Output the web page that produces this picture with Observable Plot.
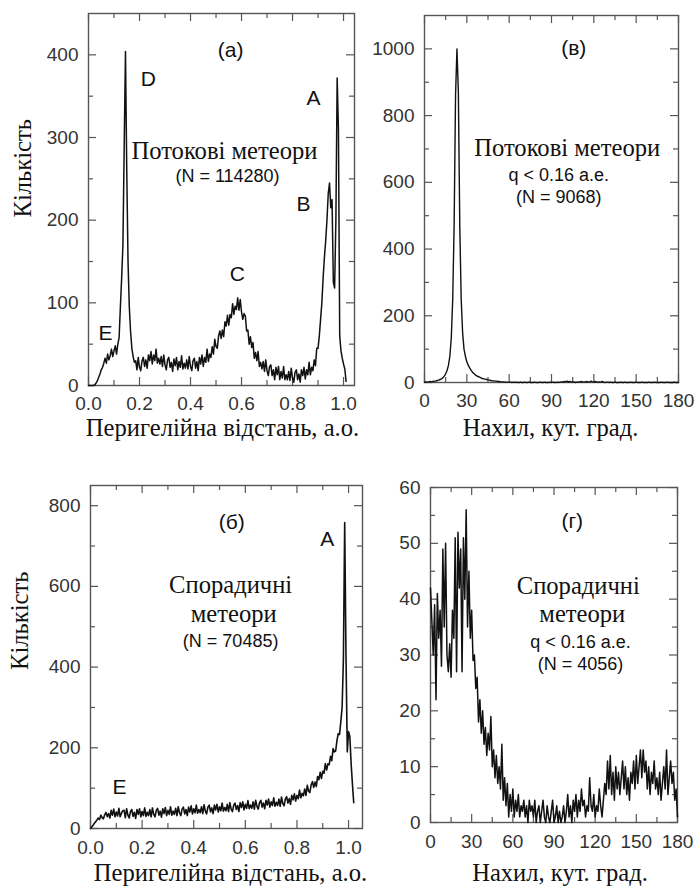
<!DOCTYPE html>
<html>
<head>
<meta charset="utf-8">
<script src="https://cdn.jsdelivr.net/npm/d3@7"></script>
<script src="https://cdn.jsdelivr.net/npm/@observablehq/plot@0.6"></script>
<style>
  body { margin: 0; background: #fff; }
  #fig { position: relative; width: 696px; height: 890px; overflow: hidden; background: #fff; }
  #fig > div { position: absolute; }
</style>
</head>
<body>
<div id="fig"></div>
<script>
// Perihelion distance histograms: counts per 0.005 AU bin, first bin at q = 0
const qBinWidth = 0.005;

// Shower meteors (N = 114280)
const perihelionShower = [
  0, 0, 0, 0, 0, 1, 3, 6, 10, 14,
  19, 22, 27, 33, 27, 38, 31, 36, 44, 35,
  42, 48, 38, 50, 58, 95, 130, 170, 290, 404,
  260, 150, 95, 65, 45, 35, 28, 30, 19, 34,
  22, 18, 30, 34, 23, 31, 21, 37, 30, 41,
  26, 37, 30, 44, 27, 33, 26, 35, 23, 37,
  25, 19, 31, 34, 22, 28, 17, 32, 24, 34,
  19, 29, 22, 36, 20, 27, 21, 31, 20, 35,
  23, 18, 30, 33, 21, 29, 18, 34, 26, 37,
  23, 34, 28, 44, 29, 38, 34, 47, 38, 56,
  47, 45, 60, 66, 57, 67, 59, 77, 72, 85,
  73, 86, 82, 99, 86, 96, 92, 106, 91, 104,
  89, 80, 87, 84, 66, 67, 50, 59, 46, 52,
  33, 40, 30, 41, 23, 28, 20, 29, 17, 31,
  18, 12, 23, 25, 12, 19, 7, 22, 13, 23,
  7, 17, 9, 23, 7, 13, 7, 17, 6, 21,
  9, 4, 16, 19, 7, 14, 4, 19, 12, 22,
  8, 19, 13, 28, 13, 22, 18, 31, 24, 45,
  45, 60, 80, 100, 130, 155, 175, 200, 232, 245,
  215, 225, 125, 118, 200, 372, 310, 60, 42, 33,
  26, 20, 5
];

// Sporadic meteors (N = 70485)
const perihelionSporadic = [
  0, 4, 8, 13, 17, 21, 26, 22, 33, 27,
  24, 34, 40, 29, 37, 26, 45, 33, 48, 29,
  41, 31, 50, 29, 38, 44, 45, 27, 49, 33,
  26, 42, 47, 30, 40, 25, 47, 35, 49, 29,
  42, 32, 51, 30, 40, 32, 47, 29, 51, 35,
  29, 45, 50, 33, 43, 28, 49, 37, 52, 32,
  45, 35, 54, 33, 43, 35, 50, 32, 54, 39,
  32, 48, 53, 36, 47, 32, 53, 41, 56, 36,
  49, 39, 58, 38, 47, 39, 54, 37, 59, 43,
  36, 53, 58, 41, 51, 37, 58, 46, 60, 41,
  54, 44, 63, 43, 52, 44, 60, 42, 64, 48,
  42, 58, 63, 47, 57, 42, 64, 52, 66, 46,
  60, 50, 69, 49, 58, 50, 66, 48, 70, 55,
  48, 64, 70, 53, 63, 49, 70, 58, 73, 53,
  66, 57, 76, 55, 65, 57, 73, 55, 78, 62,
  56, 73, 79, 63, 74, 60, 82, 71, 86, 68,
  82, 74, 95, 76, 87, 81, 98, 82, 107, 93,
  89, 108, 116, 102, 115, 104, 129, 121, 139, 124,
  142, 137, 161, 145, 160, 158, 179, 168, 198, 190,
  192, 218, 235, 233, 265, 300, 420, 758, 430, 190,
  240, 228, 160, 110, 64
];

// Inclination histograms for q < 0.16 AU: counts per 1-degree bin, 0..180
const inclinationShower = [
  1, 2, 1, 2, 3, 2, 3, 4, 4, 6,
  7, 9, 11, 14, 19, 26, 36, 52, 80, 135,
  250, 470, 860, 1000, 870, 470, 250, 150, 100, 78,
  62, 52, 44, 37, 31, 27, 23, 20, 18, 16,
  14, 12, 11, 10, 9, 8, 7, 6, 5, 5,
  4, 4, 3, 3, 2, 2, 2, 1, 1, 1,
  1, 1, 0, 1, 0, 1, 0, 0, 1, 0,
  0, 1, 0, 0, 1, 0, 0, 0, 1, 0,
  0, 0, 1, 0, 0, 1, 0, 0, 0, 1,
  0, 1, 0, 0, 1, 0, 1, 2, 1, 3,
  2, 4, 1, 3, 2, 1, 2, 0, 1, 2,
  1, 3, 2, 1, 2, 3, 1, 2, 4, 2,
  1, 3, 2, 1, 2, 1, 3, 1, 0, 1,
  1, 0, 1, 0, 0, 1, 0, 0, 0, 1,
  0, 0, 1, 0, 0, 0, 1, 0, 0, 0,
  1, 0, 0, 0, 1, 0, 0, 0, 0, 1,
  0, 0, 0, 1, 0, 0, 0, 0, 1, 0,
  0, 0, 1, 0, 0, 0, 0, 1, 0, 0,
  0
];

const inclinationSporadic = [
  42, 36, 30, 39, 22, 41, 33, 38, 28, 49,
  35, 50, 30, 27, 32, 26, 38, 33, 51, 27,
  52, 42, 49, 27, 51, 40, 56, 35, 45, 33,
  38, 29, 30, 24, 26, 18, 22, 16, 20, 14,
  17, 12, 16, 13, 19, 10, 13, 8, 12, 7,
  10, 6, 14, 4, 8, 3, 7, 1, 5, 2,
  6, 1, 4, 2, 5, 1, 3, 2, 4, 1,
  3, 0, 4, 2, 3, 1, 4, 0, 2, 3,
  0, 2, 4, 1, 0, 3, 1, 0, 2, 4,
  0, 1, 3, 0, 2, 0, 1, 3, 0, 2,
  5, 1, 3, 0, 4, 2, 5, 1, 4, 2,
  6, 3, 4, 1, 3, 2, 8, 3, 2, 5,
  1, 3, 2, 6, 3, 1, 4, 7, 5, 11,
  6, 12, 5, 9, 4, 10, 6, 9, 5, 8,
  11, 6, 10, 5, 8, 4, 9, 7, 11, 6,
  12, 7, 10, 13, 8, 13, 9, 11, 6, 10,
  5, 9, 7, 11, 6, 8, 5, 9, 4, 7,
  10, 6, 13, 5, 8, 11, 7, 9, 4, 6,
  1
];

// Axis ticks
const qTicks = [0, 0.2, 0.4, 0.6, 0.8, 1.0];
const qMinor = [0.1, 0.3, 0.5, 0.7, 0.9];
const iTicks = [0, 30, 60, 90, 120, 150, 180];
const iMinor = [15, 45, 75, 105, 135, 165];

// Annotations (text placed at data coordinates)
const notesA = [
  {text: "(а)", x: 0.557, y: 406, kind: "tag"},
  {text: "D", x: 0.235, y: 371, kind: "tag"},
  {text: "A", x: 0.882, y: 347, kind: "tag"},
  {text: "B", x: 0.843, y: 219, kind: "tag"},
  {text: "C", x: 0.584, y: 134, kind: "tag"},
  {text: "E", x: 0.067, y: 63, kind: "tag"},
  {text: "Потокові метеори", x: 0.533, y: 283, kind: "title"},
  {text: "(N = 114280)", x: 0.545, y: 253, kind: "small"}
];
const notesV = [
  {text: "(в)", x: 105.8, y: 1002, kind: "tag"},
  {text: "Потокові метеори", x: 101.1, y: 702, kind: "title"},
  {text: "q < 0.16 а.е.", x: 95.2, y: 621, kind: "small"},
  {text: "(N = 9068)", x: 95.2, y: 556, kind: "small"}
];
const notesB = [
  {text: "(б)", x: 0.547, y: 760, kind: "tag"},
  {text: "A", x: 0.917, y: 717, kind: "tag"},
  {text: "E", x: 0.112, y: 102, kind: "tag"},
  {text: "Спорадичні", x: 0.543, y: 602, kind: "title"},
  {text: "метеори", x: 0.555, y: 531, kind: "title"},
  {text: "(N = 70485)", x: 0.543, y: 465, kind: "small"}
];
const notesG = [
  {text: "(г)", x: 103.3, y: 53.9, kind: "tag"},
  {text: "Спорадичні", x: 107.7, y: 42.4, kind: "title"},
  {text: "метеори", x: 110.6, y: 37.4, kind: "title"},
  {text: "q < 0.16 а.е.", x: 109.3, y: 32.2, kind: "small"},
  {text: "(N = 4056)", x: 109.3, y: 28.4, kind: "small"}
];

const SANS = "'Liberation Sans', Arial, sans-serif";
const SERIF = "'Liberation Serif', serif";
const INK = "#111";
const FRAME = "#555";

const qSeries = (counts) => counts.map((c, i) => ({x: i * qBinWidth, y: c}));
const iSeries = (counts) => counts.map((c, i) => ({x: i, y: c}));

function panel(o) {
  const ih = o.height - o.mt - o.mb;
  const iw = o.width - o.ml - o.mr;
  const tickStyle = {stroke: FRAME, strokeWidth: 1.2};
  const serif = {fontFamily: SERIF, fontSize: 24.6, fill: INK};
  const marks = [
    // inward ticks on all four sides
    Plot.tickX(o.xMajor, {x: d => d, insetTop: ih - 8, ...tickStyle}),
    Plot.tickX(o.xMajor, {x: d => d, insetBottom: ih - 8, ...tickStyle}),
    Plot.tickX(o.xMinor, {x: d => d, insetTop: ih - 5, ...tickStyle}),
    Plot.tickX(o.xMinor, {x: d => d, insetBottom: ih - 5, ...tickStyle}),
    Plot.tickY(o.yMajor, {y: d => d, insetRight: iw - 8, ...tickStyle}),
    Plot.tickY(o.yMajor, {y: d => d, insetLeft: iw - 8, ...tickStyle}),
    Plot.tickY(o.yMinor, {y: d => d, insetRight: iw - 5, ...tickStyle}),
    Plot.tickY(o.yMinor, {y: d => d, insetLeft: iw - 5, ...tickStyle}),
    Plot.frame({stroke: FRAME, strokeWidth: 1.4}),
    Plot.axisX(o.xMajor, {tickSize: 0, tickPadding: o.xPad, tickFormat: o.xFormat, label: null, fontSize: 19}),
    Plot.axisY(o.yMajor, {tickSize: 0, tickPadding: 10, tickFormat: d => String(d), label: null, fontSize: 19}),
    Plot.line(o.series, {x: "x", y: "y", stroke: INK, strokeWidth: o.lineWidth}),
    Plot.text(o.notes.filter(d => d.kind === "tag"), {x: "x", y: "y", text: "text", fontSize: 21, fill: INK}),
    Plot.text(o.notes.filter(d => d.kind === "small"), {x: "x", y: "y", text: "text", fontSize: 18, fill: INK}),
    Plot.text(o.notes.filter(d => d.kind === "title"), {x: "x", y: "y", text: "text", ...serif}),
    Plot.text([o.xTitle], {frameAnchor: "bottom", dx: o.xTitleDx, dy: o.xTitleDy, text: d => d, ...serif})
  ];
  if (o.yTitle) {
    marks.push(Plot.text([o.yTitle], {frameAnchor: "left", rotate: -90, dx: o.yTitleDx, dy: o.yTitleDy, text: d => d, ...serif}));
  }
  const chart = Plot.plot({
    width: o.width,
    height: o.height,
    marginLeft: o.ml,
    marginRight: o.mr,
    marginTop: o.mt,
    marginBottom: o.mb,
    style: {fontFamily: SANS, fontSize: "19px", color: "#333", background: "transparent", overflow: "visible"},
    x: {domain: o.xDomain},
    y: {domain: o.yDomain},
    marks
  });
  const holder = document.createElement("div");
  holder.style.left = o.left + "px";
  holder.style.top = o.top + "px";
  holder.appendChild(chart);
  document.getElementById("fig").appendChild(holder);
}

const fmtQ = d => d.toFixed(1);
const fmtI = d => String(d);

panel({
  left: 0, top: 0, width: 360, height: 445, ml: 88, mr: 6, mt: 13, mb: 60,
  xDomain: [0, 1.043], yDomain: [0, 450],
  xMajor: qTicks, xMinor: qMinor, yMajor: [0, 100, 200, 300, 400], yMinor: [50, 150, 250, 350],
  xFormat: fmtQ, xPad: 11, lineWidth: 1.5,
  series: qSeries(perihelionShower), notes: notesA,
  xTitle: "Перигелійна відстань, а.о.", xTitleDx: 1, xTitleDy: 50,
  yTitle: "Кількість", yTitleDx: -65, yTitleDy: 18
});

panel({
  left: 360, top: 0, width: 336, height: 445, ml: 64, mr: 18, mt: 15, mb: 63,
  xDomain: [0, 180], yDomain: [0, 1100],
  xMajor: iTicks, xMinor: iMinor, yMajor: [0, 200, 400, 600, 800, 1000], yMinor: [100, 300, 500, 700, 900],
  xFormat: fmtI, xPad: 11, lineWidth: 1.4,
  series: iSeries(inclinationShower), notes: notesV,
  xTitle: "Нахил, кут. град.", xTitleDx: -1, xTitleDy: 53
});

panel({
  left: 0, top: 445, width: 370, height: 445, ml: 90, mr: 8, mt: 40, mb: 62,
  xDomain: [0, 1.054], yDomain: [0, 850],
  xMajor: qTicks, xMinor: qMinor, yMajor: [0, 200, 400, 600, 800], yMinor: [100, 300, 500, 700],
  xFormat: fmtQ, xPad: 12, lineWidth: 1.6,
  series: qSeries(perihelionSporadic), notes: notesB,
  xTitle: "Перигелійна відстань, а.о.", xTitleDx: 4, xTitleDy: 52,
  yTitle: "Кількість", yTitleDx: -70, yTitleDy: 13
});

panel({
  left: 370, top: 445, width: 326, height: 445, ml: 60, mr: 19, mt: 42, mb: 68,
  xDomain: [0, 180], yDomain: [0, 60],
  xMajor: iTicks, xMinor: iMinor, yMajor: [0, 10, 20, 30, 40, 50, 60], yMinor: [5, 15, 25, 35, 45, 55],
  xFormat: fmtI, xPad: 12, lineWidth: 1.5,
  series: iSeries(inclinationSporadic), notes: notesG,
  xTitle: "Нахил, кут. град.", xTitleDx: 6, xTitleDy: 58
});
</script>
</body>
</html>
